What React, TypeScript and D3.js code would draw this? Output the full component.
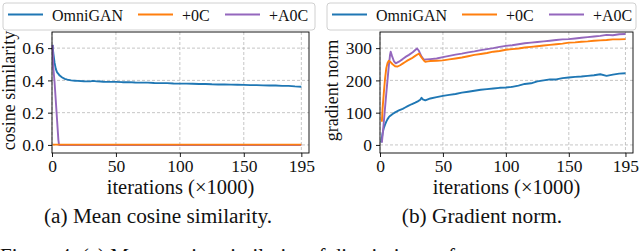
import { useEffect, useRef } from "react";
import * as d3 from "d3";

// shared x positions (thousands of iterations) after the early phase
const lateIters = [40, 45, 50, 55, 60, 65, 70, 75, 80, 85, 90, 95, 100, 105, 110, 115, 120, 125, 130, 135, 140, 145, 150, 155, 160, 165, 170, 175, 180, 185, 190, 195];

// (a) mean cosine similarity
const cosOmniEarly = [0.5, 1, 2, 3, 4, 5, 6, 8, 10, 12, 15, 18, 20, 25, 30, 32, 35, 38];
const cosOmniEarlyVals = [0.62, 0.57, 0.51, 0.47, 0.45, 0.44, 0.43, 0.418, 0.41, 0.405, 0.4, 0.398, 0.397, 0.395, 0.394, 0.397, 0.394, 0.393];
const cosOmniLateVals = [0.392, 0.391, 0.391, 0.389, 0.389, 0.387, 0.386, 0.386, 0.384, 0.383, 0.383, 0.381, 0.38, 0.38, 0.379, 0.378, 0.378, 0.376, 0.375, 0.375, 0.374, 0.373, 0.372, 0.371, 0.371, 0.369, 0.368, 0.368, 0.366, 0.366, 0.363, 0.361];

const cosZeroCIters = [0.5, 5, 20, 50, 100, 150, 195];
const cosZeroCVals = [0.002, 0.002, 0.002, 0.002, 0.002, 0.002, 0.002];

const cosAZeroCIters = [0.5, 1, 2, 3, 4, 5, 5.5, 20, 195];
const cosAZeroCVals = [0.62, 0.48, 0.39, 0.27, 0.15, 0.03, 0.0, 0.0, 0.0];

// (b) gradient norm
const gradOmniEarly = [1, 2, 3, 4, 5, 6, 7, 8, 10, 12, 15, 18, 20, 22, 25, 28, 30, 32, 33, 34, 36, 38];
const gradOmniEarlyVals = [8, 35, 52, 63, 72, 80, 86, 90, 96, 101, 107, 112, 116, 120, 126, 131, 135, 140, 146, 141, 138, 141];
const gradOmniLateVals = [144, 148, 152, 155, 158, 162, 165, 168, 171, 173, 175, 177, 178, 180, 184, 189, 191, 197, 200, 203, 203, 207, 209, 211, 212, 214, 216, 219, 214, 218, 221, 222];

const gradZeroCEarly = [1.5, 2, 3, 4, 5, 6, 7, 8, 10, 12, 14, 16, 18, 20, 22, 25, 28, 30, 31, 33, 35, 36, 38];
const gradZeroCEarlyVals = [72, 110, 160, 205, 238, 254, 261, 258, 250, 244, 243, 247, 252, 257, 262, 268, 276, 281, 283, 271, 261, 258, 259];
const gradZeroCLateVals = [260, 261, 262, 265, 268, 271, 275, 279, 282, 285, 289, 291, 295, 297, 299, 302, 304, 306, 308, 310, 312, 314, 317, 318, 320, 321, 323, 324, 325, 327, 327, 328];

const gradAZeroCEarly = [1.5, 3, 5, 7, 8, 8.5, 9.5, 11, 12.5, 15, 18, 20, 23, 26, 28, 29.5, 31, 33, 35, 37];
const gradAZeroCEarlyVals = [7, 70, 160, 245, 280, 289, 276, 260, 253, 258, 266, 272, 279, 287, 294, 299, 291, 274, 264, 265];
const gradAZeroCLateVals = [266, 268, 272, 276, 280, 283, 287, 290, 294, 297, 300, 304, 307, 309, 312, 315, 317, 319, 321, 323, 325, 327, 328, 330, 332, 334, 336, 338, 341, 340, 343, 344];

const seriesNames = ["OmniGAN", "+0C", "+A0C"];
const seriesColors = ["#1f77b4", "#ff7f0e", "#9467bd"];
const xTicks = [0, 50, 100, 150, 195];
const cosTicks = [0, 0.2, 0.4, 0.6];
const gradTicks = [0, 100, 200, 300];
const captions = ["(a) Mean cosine similarity.", "(b) Gradient norm."];
const yLabels = ["cosine similarity", "gradient norm"];
const xLabel = "iterations (×1000)";

const zip = (xs: number[], ys: number[]) => xs.map((x, i) => [x, ys[i]] as [number, number]);

const FONT = "Liberation Serif, Times New Roman, serif";

const App = () => {
    const svgRef = useRef<SVGSVGElement>(null);

    useEffect(() => {
        const svg = d3.select(svgRef.current);
        svg.selectAll("*").remove();

        const panels = [
            {
                left: 52, right: 309, top: 32, bottom: 153,
                legend: [3, 315],
                yDomain: [-0.05, 0.7], yTicks: cosTicks, yFmt: d3.format(".1f"),
                labelX: 15, caption: captions[0], yLabel: yLabels[0], captionX: 158,
                series: [
                    zip(cosOmniEarly.concat(lateIters), cosOmniEarlyVals.concat(cosOmniLateVals)),
                    zip(cosZeroCIters, cosZeroCVals),
                    zip(cosAZeroCIters, cosAZeroCVals),
                ],
                order: [0, 2, 1],
            },
            {
                left: 380, right: 633, top: 32, bottom: 153,
                legend: [327, 636],
                yDomain: [-25, 350], yTicks: gradTicks, yFmt: d3.format("d"),
                labelX: 338, caption: captions[1], yLabel: yLabels[1], captionX: 482,
                series: [
                    zip(gradOmniEarly.concat(lateIters), gradOmniEarlyVals.concat(gradOmniLateVals)),
                    zip(gradZeroCEarly.concat(lateIters), gradZeroCEarlyVals.concat(gradZeroCLateVals)),
                    zip(gradAZeroCEarly.concat(lateIters), gradAZeroCEarlyVals.concat(gradAZeroCLateVals)),
                ],
                order: [0, 2, 1],
            },
        ];

        panels.forEach((p) => {
            const x = d3.scaleLinear().domain([0, 201]).range([p.left, p.right]);
            const y = d3.scaleLinear().domain(p.yDomain).range([p.bottom, p.top]);
            const g = svg.append("g");

            // grid
            g.selectAll(".gx")
                .data(xTicks)
                .enter()
                .append("line")
                .attr("x1", (d) => x(d))
                .attr("x2", (d) => x(d))
                .attr("y1", p.top)
                .attr("y2", p.bottom)
                .attr("stroke", "#b8b8b8")
                .attr("stroke-width", 0.8)
                .attr("stroke-dasharray", "3,2");
            g.selectAll(".gy")
                .data(p.yTicks)
                .enter()
                .append("line")
                .attr("x1", p.left)
                .attr("x2", p.right)
                .attr("y1", (d) => y(d))
                .attr("y2", (d) => y(d))
                .attr("stroke", "#b8b8b8")
                .attr("stroke-width", 0.8)
                .attr("stroke-dasharray", "3,2");

            // lines
            const line = d3
                .line<[number, number]>()
                .x((d) => x(d[0]))
                .y((d) => y(d[1]));
            p.order.forEach((i) => {
                g.append("path")
                    .attr("d", line(p.series[i]))
                    .attr("fill", "none")
                    .attr("stroke", seriesColors[i])
                    .attr("stroke-width", 1.9)
                    .attr("stroke-linejoin", "round");
            });

            // frame
            g.append("rect")
                .attr("x", p.left)
                .attr("y", p.top)
                .attr("width", p.right - p.left)
                .attr("height", p.bottom - p.top)
                .attr("fill", "none")
                .attr("stroke", "#000")
                .attr("stroke-width", 0.9);

            const xAxis = g
                .append("g")
                .attr("transform", `translate(0,${p.bottom})`)
                .call(d3.axisBottom(x).tickValues(xTicks).tickSize(4).tickPadding(3).tickFormat(d3.format("d")));
            const yAxis = g
                .append("g")
                .attr("transform", `translate(${p.left},0)`)
                .call(d3.axisLeft(y).tickValues(p.yTicks).tickSize(4).tickPadding(4).tickFormat(p.yFmt as any));
            [xAxis, yAxis].forEach((a) => {
                a.attr("font-family", null).attr("font-size", null);
                a.select(".domain").remove();
                a.selectAll("text").attr("font-size", 17.5).attr("fill", "#111");
                a.selectAll("line").attr("stroke", "#000").attr("stroke-width", 0.9);
            });

            // axis labels
            g.append("text")
                .attr("x", (p.left + p.right) / 2)
                .attr("y", 194)
                .attr("text-anchor", "middle")
                .attr("font-size", 20.5)
                .attr("fill", "#111")
                .text(xLabel);
            g.append("text")
                .attr("transform", `translate(${p.labelX},${(p.top + p.bottom) / 2 - 2}) rotate(-90)`)
                .attr("text-anchor", "middle")
                .attr("font-size", 18)
                .attr("fill", "#111")
                .text(p.yLabel);

            // legend
            const [lx0, lx1] = p.legend;
            g.append("rect")
                .attr("x", lx0)
                .attr("y", 3)
                .attr("width", lx1 - lx0)
                .attr("height", 27)
                .attr("rx", 3)
                .attr("fill", "#fff")
                .attr("fill-opacity", 0.8)
                .attr("stroke", "#d0d0d0")
                .attr("stroke-width", 1);
            const offsets = [5, 135, 222];
            seriesNames.forEach((name, i) => {
                const hx = lx0 + offsets[i];
                g.append("line")
                    .attr("x1", hx)
                    .attr("x2", hx + 35)
                    .attr("y1", 14.5)
                    .attr("y2", 14.5)
                    .attr("stroke", seriesColors[i])
                    .attr("stroke-width", 2);
                g.append("text")
                    .attr("x", hx + 44)
                    .attr("y", 20.5)
                    .attr("font-size", 16)
                    .attr("fill", "#111")
                    .text(name);
            });

            // caption
            g.append("text")
                .attr("x", p.captionX)
                .attr("y", 223)
                .attr("text-anchor", "middle")
                .attr("font-size", 21.3)
                .attr("fill", "#111")
                .text(p.caption);
        });

        // figure caption, clipped at the bottom edge as in the source page
        svg.append("text")
            .attr("x", 0)
            .attr("y", 263)
            .attr("font-size", 21)
            .attr("fill", "#111")
            .text("Figure 4: (a) Mean cosine similarity of discriminator features");
    }, []);

    return (
        <svg
            ref={svgRef}
            width={640}
            height={251}
            fontFamily={FONT}
            style={{ position: "absolute", left: 0, top: 0, background: "#fff" }}
        ></svg>
    );
};

export default App;
